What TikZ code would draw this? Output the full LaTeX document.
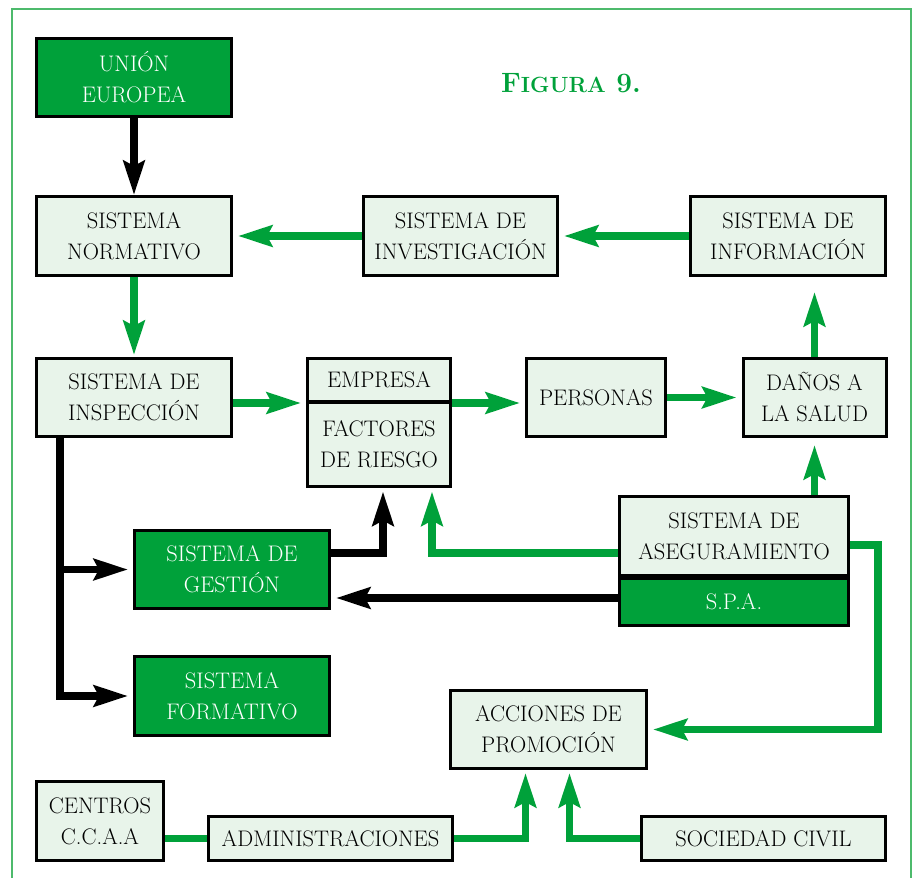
\documentclass[tikz,border=0pt]{standalone}
\usepackage{tikz}
\usetikzlibrary{arrows.meta,calc,positioning}
\definecolor{Verde}{HTML}{00A13A}
\definecolor{Claro}{HTML}{E8F4EA}
\definecolor{Marco}{HTML}{4DBA6C}
\tikzset{
  caja/.style={
    draw=black, line width=3pt, fill=Claro, inner sep=0pt,
    align=center, font=\fontsize{22.5}{31}\selectfont
  },
  cajaverde/.style={caja, fill=Verde, text=white},
  flecha/.style={-{Stealth[length=34pt,width=21pt,inset=5pt]}, line width=7.5pt, draw=Verde, shorten >=5pt},
  flechanegra/.style={flecha, draw=black},
  linea/.style={line width=7.5pt, draw=Verde}
}

\begin{document}
\begin{tikzpicture}[x=1pt,y=-1pt]
        \useasboundingbox (0,0) rectangle (914,878);
        \draw[Marco,line width=1.6pt] (12,878) |- (911,9) -- (911,878);
        \node[text=Verde,font=\bfseries] (titulo) at (571,83)
          {{\fontsize{28}{28}\selectfont F}{\fontsize{22}{28}\selectfont IGURA}\fontsize{28}{28}\selectfont\ 9.};
        \node[cajaverde,minimum width=195,minimum height=78] (ue) at (134,77.5) {UNIÓN\\EUROPEA};
        \node[caja,minimum width=195,minimum height=79] (norm) at (134,236) {SISTEMA\\NORMATIVO};
        \node[caja,minimum width=194,minimum height=79] (inv) at (460.5,236) {SISTEMA DE\\INVESTIGACIÓN};
        \node[caja,minimum width=195,minimum height=79] (info) at (788,236) {SISTEMA DE\\INFORMACIÓN};
        \node[caja,minimum width=195,minimum height=78] (insp) at (134,397.5) {SISTEMA DE\\INSPECCIÓN};
        \node[caja,minimum width=143,minimum height=43] (empresa) at (379,380) {EMPRESA};
        \node[caja,minimum width=143,minimum height=84] (factores) at (379,444) {FACTORES\\DE RIESGO};
        \node[caja,minimum width=139,minimum height=78] (pers) at (596,397.5) {PERSONAS};
        \node[caja,minimum width=143,minimum height=78] (danos) at (814.5,397.5) {DAÑOS A\\LA SALUD};
        \node[caja,minimum width=229,minimum height=79] (aseg) at (734,536) {SISTEMA DE\\ASEGURAMIENTO};
        \node[cajaverde,minimum width=229,minimum height=47] (spa) at (734,602) {S.P.A.};
        \node[cajaverde,minimum width=195,minimum height=78] (gest) at (232,569.5) {SISTEMA DE\\GESTIÓN};
        \node[cajaverde,minimum width=195,minimum height=79] (form) at (232,696) {SISTEMA\\FORMATIVO};
        \node[caja,minimum width=196,minimum height=78] (acc) at (548.5,729.5) {ACCIONES DE\\PROMOCIÓN};
        \node[caja,minimum width=127,minimum height=79] (centros) at (100,821) {CENTROS\\C.C.A.A};
        \node[caja,minimum width=244,minimum height=44] (admin) at (330.5,838.5) {ADMINISTRACIONES};
        \node[caja,minimum width=244,minimum height=44] (soc) at (763.5,838.5) {SOCIEDAD CIVIL};
        \coordinate (tronco) at ([xshift=25pt]insp.south west);
        \draw[flechanegra,shorten >=0pt] (ue) -- (norm);
        \draw[flecha] (inv) -- (norm);
        \draw[flecha] (info) -- (inv);
        \draw[flecha,shorten >=2pt] (norm) -- (insp);
        \draw[flecha] (insp.east |- empresa.south) -- (empresa.south west);
        \draw[flecha] (empresa.south east) -- (empresa.south east -| pers.west);
        \draw[flecha] (pers) -- (danos);
        \draw[flecha,shorten >=15pt] (danos.north) -- (danos.north |- info.south);
        \draw[flecha,shorten >=7pt] (aseg.north -| danos.south) -- (danos.south);
        \draw[flecha,shorten >=4pt] ([yshift=-17pt]aseg.west) -| ([xshift=53pt]factores.south);
        \draw[flechanegra,shorten >=4pt] ([yshift=16.5pt]gest.east) -| ([xshift=4pt]factores.south);
        \draw[flechanegra] ([yshift=4pt]spa.west) -- ([yshift=4pt]spa.west -| gest.east);
        \draw[flechanegra] (tronco) |- (form.west);
        \draw[flechanegra] (tronco |- gest.west) -- (gest.west);
        \draw[flecha] ([yshift=-9pt]aseg.east) -- ++(28,0) |- (acc.east);
        \draw[linea] (centros.east |- admin.west) -- (admin.west);
        \draw[flecha,shorten >=3pt] (admin.east) -| ([xshift=-23pt]acc.south);
        \draw[flecha,shorten >=3pt] (soc.west) -| ([xshift=21pt]acc.south);
      \end{tikzpicture}
\end{document}
